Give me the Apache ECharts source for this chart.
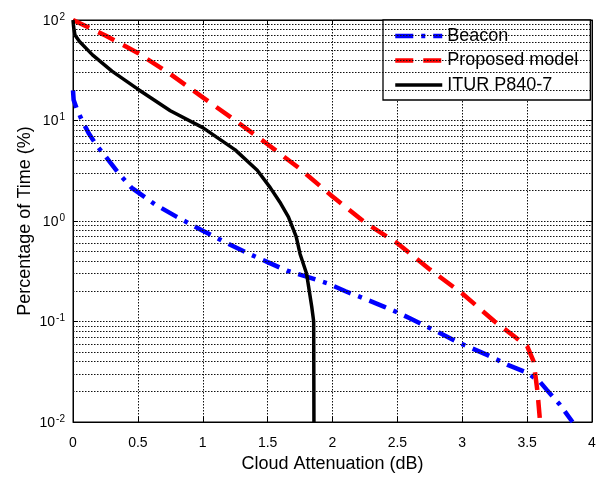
<!DOCTYPE html>
<html>
<head>
<meta charset="utf-8">
<script src="https://cdn.jsdelivr.net/npm/echarts@6/dist/echarts.min.js"></script>
<style>
  html, body { margin: 0; padding: 0; background: #fff; }
  #chart { width: 611px; height: 478px; }
</style>
</head>
<body>
<div id="chart"></div>
<script>
  // values (x in dB, y in % of time)
  const beaconX = [0, 0.005, 0.03, 0.07, 0.12, 0.18, 0.25, 0.35, 0.45, 0.63, 0.8, 1.0, 1.2, 1.36, 1.5, 1.65, 1.8, 1.96, 2.1, 2.24, 2.4, 2.52, 2.6, 2.8, 2.98, 3.2, 3.35, 3.5, 3.6, 3.65, 3.75, 3.85]
  const beaconY = [20, 16, 13, 10, 7.5, 5.7, 4.4, 3.0, 2.15, 1.47, 1.1, 0.8, 0.59, 0.47, 0.39, 0.32, 0.28, 0.24, 0.2, 0.17, 0.14, 0.12, 0.107, 0.08, 0.061, 0.046, 0.037, 0.031, 0.025, 0.021, 0.015, 0.01]

  const proposedX = [0, 0.25, 0.5, 0.75, 1.0, 1.25, 1.5, 1.75, 2.0, 2.25, 2.5, 2.75, 3.0, 3.25, 3.42, 3.5, 3.55, 3.58, 3.6]
  const proposedY = [100, 70, 47, 29, 17, 10, 5.8, 3.3, 1.75, 0.97, 0.6, 0.33, 0.19, 0.1, 0.068, 0.057, 0.04, 0.02, 0.01]

  const iturX = [0, 0.005, 0.015, 0.05, 0.15, 0.3, 0.5, 0.75, 1.0, 1.25, 1.42, 1.52, 1.6, 1.66, 1.72, 1.75, 1.8, 1.84, 1.855, 1.857]
  const iturY = [100, 85, 71, 61, 45, 31, 20.5, 12.5, 8.5, 5.1, 3.2, 2.15, 1.5, 1.1, 0.7, 0.47, 0.3, 0.14, 0.1, 0.01]

  const minorY = [0.02, 0.03, 0.04, 0.05, 0.06, 0.07, 0.08, 0.09,
                  0.2, 0.3, 0.4, 0.5, 0.6, 0.7, 0.8, 0.9,
                  2, 3, 4, 5, 6, 7, 8, 9,
                  20, 30, 40, 50, 60, 70, 80, 90]

  const font = '"Liberation Sans", Arial, sans-serif'
  const pairs = (xs, ys) => xs.map((x, i) => [x, ys[i]])
  const gridLine = { show: true, lineStyle: { color: '#111', width: 1, type: [1.5, 1.5] } }

  const beaconLine = { color: '#0000ff', width: 4.5, type: [18, 8, 4, 8] }
  const proposedLine = { color: '#ff0000', width: 4.5, type: [18, 10] }
  const iturLine = { color: '#000', width: 3.5, type: 'solid' }

  const logLabel = {
    fontFamily: font, color: '#000', margin: 8,
    formatter: v => '{b|10}{e|' + Math.round(Math.log10(v)) + '}',
    rich: {
      b: { fontFamily: font, fontSize: 14, color: '#000', padding: [2, 0, 0, 0] },
      e: { fontFamily: font, fontSize: 10, color: '#000', padding: [0, 0, 6, 1] }
    }
  }

  let myChart = echarts.init(document.getElementById('chart'))
  let option = {
    backgroundColor: '#fff',
    animation: false,
    grid: { left: 73, right: 19, top: 20, bottom: 50, show: true, borderColor: '#000', borderWidth: 1 },
    legend: {
      left: 383, top: 20,
      orient: 'vertical',
      backgroundColor: '#fff',
      borderColor: '#000', borderWidth: 1.3,
      padding: [7, 12, 6, 10],
      itemWidth: 47, itemHeight: 14, itemGap: 6.5,
      itemStyle: { opacity: 0 },
      textStyle: { fontFamily: font, fontSize: 18, color: '#000', lineHeight: 18 },
      data: [
        { name: 'Beacon', lineStyle: beaconLine },
        { name: 'Proposed model', lineStyle: proposedLine },
        { name: 'ITUR P840-7', lineStyle: iturLine }
      ]
    },
    xAxis: [
      {
        type: 'value', min: 0, max: 4, interval: 0.5,
        name: 'Cloud Attenuation (dB)', nameLocation: 'middle', nameGap: 33, nameMoveOverlap: false,
        nameTextStyle: { fontFamily: font, fontSize: 18, color: '#000' },
        axisLine: { show: true, onZero: false, lineStyle: { color: '#000' } },
        axisTick: { show: true, inside: true, length: 5, lineStyle: { color: '#000' } },
        axisLabel: { fontFamily: font, fontSize: 14, color: '#000', margin: 14 },
        splitLine: gridLine
      },
      {
        type: 'value', min: 0, max: 4, interval: 0.5, position: 'top',
        axisLine: { show: true, onZero: false, lineStyle: { color: '#000' } },
        axisTick: { show: true, inside: true, length: 5, lineStyle: { color: '#000' } },
        axisLabel: { show: false }, splitLine: { show: false }
      }
    ],
    yAxis: [
      {
        type: 'log', logBase: 10, min: 0.01, max: 100, splitNumber: 4,
        name: 'Percentage of Time (%)', nameLocation: 'middle', nameGap: 39, nameMoveOverlap: false,
        nameTextStyle: { fontFamily: font, fontSize: 18, color: '#000' },
        axisLine: { show: true, onZero: false, lineStyle: { color: '#000' } },
        axisTick: { show: true, inside: true, length: 5, lineStyle: { color: '#000' } },
        axisLabel: logLabel,
        splitLine: gridLine
      },
      {
        type: 'log', logBase: 10, min: 0.01, max: 100, splitNumber: 4, position: 'right',
        axisLine: { show: true, onZero: false, lineStyle: { color: '#000' } },
        axisTick: { show: true, inside: true, length: 5, lineStyle: { color: '#000' } },
        axisLabel: { show: false }, splitLine: { show: false }
      }
    ],
    series: [
      {
        // minor grid lines of the log axis
        name: 'minor', type: 'line', data: [], silent: true,
        markLine: {
          silent: true, symbol: ['none', 'none'], label: { show: false },
          lineStyle: { color: '#111', width: 1, type: [1.5, 1.5] },
          data: minorY.map(v => ({ yAxis: v }))
        }
      },
      {
        name: 'Beacon', type: 'line', symbol: 'none', z: 3,
        lineStyle: beaconLine, itemStyle: { color: '#0000ff' },
        data: pairs(beaconX, beaconY)
      },
      {
        name: 'Proposed model', type: 'line', symbol: 'none', z: 3,
        lineStyle: proposedLine, itemStyle: { color: '#ff0000' },
        data: pairs(proposedX, proposedY)
      },
      {
        name: 'ITUR P840-7', type: 'line', symbol: 'none', z: 4,
        lineStyle: iturLine, itemStyle: { color: '#000' },
        data: pairs(iturX, iturY)
      }
    ]
  }
  myChart.setOption(option)
</script>
</body>
</html>
